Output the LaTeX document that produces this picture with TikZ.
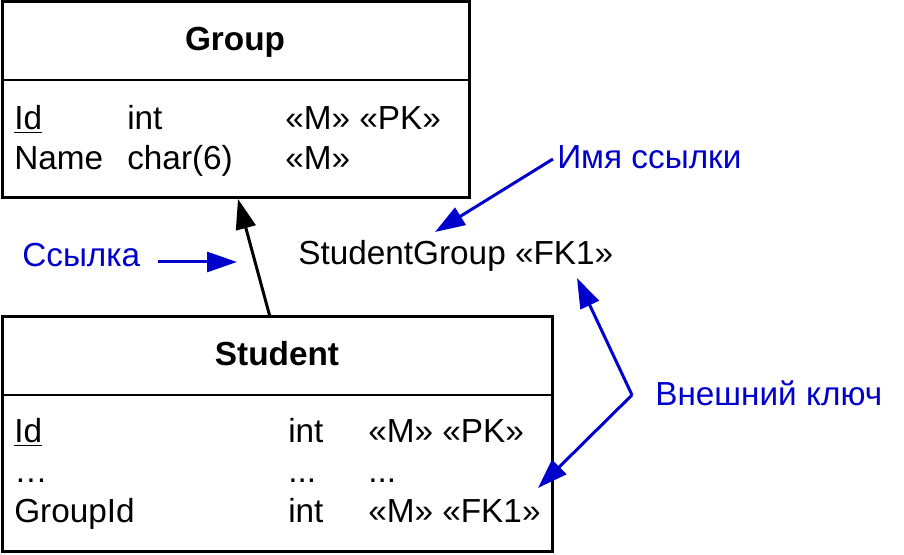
\documentclass[tikz,border=0pt]{standalone}
\usepackage{fontspec}
\setmainfont{Liberation Sans}
\usetikzlibrary{arrows.meta}
\definecolor{annblue}{RGB}{0,0,204}
\begin{document}
\begin{tikzpicture}[x=0.75pt,y=-0.75pt,
  txt/.style={inner sep=0pt,anchor=base west,font=\fontsize{25}{29}\selectfont},
  ttl/.style={inner sep=0pt,anchor=base,font=\fontsize{25}{29}\selectfont\bfseries},
  ann/.style={txt,text=annblue},
  tbl/.style={draw=black,line width=2.25pt,inner sep=0pt,outer sep=0pt,anchor=north west},
  sep/.style={line width=1.1pt},
  blk/.style={line width=2.25pt,-{Triangle[length=22.5pt,width=15pt]}},
  blu/.style={draw=annblue,line width=2.25pt,-{Triangle[length=22.5pt,width=15pt]}}
]
\useasboundingbox (0,0) rectangle (904,555);
% Group table
\node[tbl,minimum width=350.25pt,minimum height=147pt] (group) at (2,2) {};
\coordinate (gsl) at (2,80);
\coordinate (gsr) at (469,80);
\draw[sep] (gsl) -- (gsr);
\node[ttl] (gtitle) at (235,51) {Group};
\node[txt] (g11) at (14,130) {\underline{Id}};
\node[txt] (g12) at (127,130) {int};
\node[txt] (g13) at (285,130) {«M» «PK»};
\node[txt] (g21) at (14,170) {Name};
\node[txt] (g22) at (127,170) {char(6)};
\node[txt] (g23) at (285,170) {«M»};
% Student table
\node[tbl,minimum width=412.5pt,minimum height=176.25pt] (student) at (2,317) {};
\coordinate (ssl) at (2,395);
\coordinate (ssr) at (552,395);
\draw[sep] (ssl) -- (ssr);
\node[ttl] (stitle) at (277,366) {Student};
\node[txt] (s11) at (14,443) {\underline{Id}};
\node[txt] (s12) at (288,443) {int};
\node[txt] (s13) at (368,443) {«M» «PK»};
\node[txt] (s21) at (14,483) {…};
\node[txt] (s22) at (288,483) {...};
\node[txt] (s23) at (368,483) {...};
\node[txt] (s31) at (14,523) {GroupId};
\node[txt] (s32) at (288,523) {int};
\node[txt] (s33) at (368,523) {«M» «FK1»};
% relationship
\coordinate (relfrom) at (270,317);
\coordinate (relto) at (238,199);
\draw[blk] (relfrom) -- (relto);
\node[txt] (relname) at (298,265) {StudentGroup «FK1»};
% annotations
\node[ann] (lref) at (22,267) {Ссылка};
\coordinate (lrefa) at (158,262);
\coordinate (lrefb) at (237,262);
\draw[blu] (lrefa) -- (lrefb);
\node[ann] (lname) at (557,169) {Имя ссылки};
\coordinate (lnamea) at (553,159);
\coordinate (lnameb) at (435,232);
\draw[blu] (lnamea) -- (lnameb);
\node[ann] (lfk) at (655,406) {Внешний ключ};
\coordinate (lfkv) at (632,395);
\coordinate (lfka) at (577,278);
\coordinate (lfkb) at (538,488);
\draw[blu] (lfkv) -- (lfka);
\draw[blu] (lfkv) -- (lfkb);
\end{tikzpicture}
\end{document}
